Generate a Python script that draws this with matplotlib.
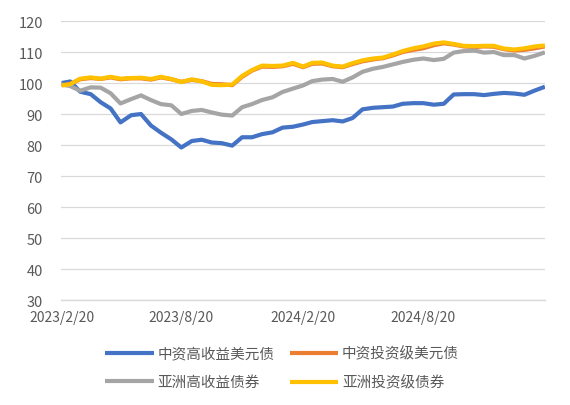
import matplotlib
matplotlib.use("Agg")
import matplotlib.pyplot as plt
import pandas as pd

plt.rcParams["font.family"] = ["Noto Sans CJK SC", "DejaVu Sans"]

# semi-monthly observation dates (5th and 20th of each month)
all_days = pd.date_range("2023-02-20", "2025-02-20", freq="D")
dates = [d for d in all_days if d.day in (5, 20)]

cn_hy = [100.0, 100.5, 97.2, 96.4, 93.8, 91.8, 87.3, 89.6, 90.0, 86.3,
         84.0, 81.8, 79.2, 81.3, 81.7, 80.8, 80.6, 79.8, 82.5, 82.5,
         83.5, 84.1, 85.6, 85.9, 86.6, 87.4, 87.7, 88.0, 87.6, 88.7,
         91.5, 92.0, 92.2, 92.4, 93.3, 93.5, 93.5, 93.0, 93.3, 96.3,
         96.4, 96.4, 96.1, 96.5, 96.8, 96.6, 96.2, 97.6, 98.8]

cn_ig = [99.3, 99.7, 101.2, 101.6, 101.3, 101.8, 101.2, 101.5, 101.5, 101.1,
         101.8, 101.2, 100.4, 101.0, 100.6, 99.7, 99.6, 99.3, 102.0, 104.0,
         105.3, 105.2, 105.4, 106.2, 105.1, 106.2, 106.3, 105.4, 105.1, 106.1,
         107.0, 107.6, 108.0, 108.9, 110.0, 110.7, 111.2, 112.2, 112.8, 112.4,
         111.8, 111.6, 111.8, 111.7, 110.9, 110.5, 110.7, 111.2, 111.8]

asia_hy = [99.5, 99.0, 97.5, 98.6, 98.5, 96.7, 93.4, 94.8, 96.0, 94.5,
           93.2, 92.8, 90.0, 91.0, 91.3, 90.5, 89.8, 89.5, 92.2, 93.2,
           94.5, 95.4, 97.1, 98.2, 99.2, 100.6, 101.1, 101.3, 100.4, 101.8,
           103.6, 104.6, 105.2, 106.0, 106.8, 107.5, 107.9, 107.4, 107.8, 109.8,
           110.3, 110.5, 109.8, 110.0, 109.0, 109.0, 107.9, 108.8, 109.9]

asia_ig = [99.2, 99.6, 101.4, 101.8, 101.4, 102.0, 101.4, 101.6, 101.7, 101.3,
           102.0, 101.3, 100.3, 101.2, 100.5, 99.4, 99.3, 99.5, 102.3, 104.2,
           105.6, 105.5, 105.6, 106.5, 105.3, 106.5, 106.6, 105.6, 105.3, 106.4,
           107.3, 107.9, 108.2, 109.2, 110.3, 111.2, 111.8, 112.7, 113.1, 112.6,
           112.0, 111.9, 112.0, 112.0, 111.1, 110.8, 111.2, 111.8, 112.1]

series = [
    ("中资高收益美元债", cn_hy, "#4472C4"),
    ("中资投资级美元债", cn_ig, "#ED7D31"),
    ("亚洲高收益债券", asia_hy, "#A5A5A5"),
    ("亚洲投资级债券", asia_ig, "#FFC000"),
]

tick_dates = pd.to_datetime(["2023-02-20", "2023-08-20", "2024-02-20", "2024-08-20"])

fig = plt.figure(figsize=(5.7, 4.06), dpi=100)
ax = fig.add_axes([0.107, 0.2586, 0.849, 0.6872])

lines = {}
for name, vals, col in series:
    lines[name], = ax.plot(dates, vals, color=col, lw=3.0, label=name,
                           solid_joinstyle="round", solid_capstyle="butt")

ax.set_ylim(30, 120)
ax.set_yticks(range(30, 121, 10))
ax.set_xlim(pd.Timestamp("2023-02-19"), pd.Timestamp("2025-02-20"))
ax.set_xticks(tick_dates)
ax.set_xticklabels([f"{d.year}/{d.month}/{d.day}" for d in tick_dates])

ax.grid(axis="y", color="#D9D9D9", lw=0.9)
ax.set_axisbelow(True)
for s in ["top", "right", "left"]:
    ax.spines[s].set_visible(False)
ax.spines["bottom"].set_color("#D9D9D9")
ax.spines["bottom"].set_linewidth(1.0)
ax.tick_params(axis="y", length=0, pad=13, labelsize=10.5, labelcolor="#595959")
ax.tick_params(axis="x", length=0, pad=7, labelsize=10, labelcolor="#595959")

# legend is filled column-wise: put the two Chinese series in row one
order = ["中资高收益美元债", "亚洲高收益债券", "中资投资级美元债", "亚洲投资级债券"]
fig.legend([lines[n] for n in order], order, loc="upper left",
           bbox_to_anchor=(0.185, 0.145), ncol=2, frameon=False,
           fontsize=10.5, handlelength=3.3, handletextpad=0.25, columnspacing=1.1,
           labelspacing=1.0, borderpad=0, borderaxespad=0, labelcolor="#595959")

fig.savefig("out.png", dpi=100)
